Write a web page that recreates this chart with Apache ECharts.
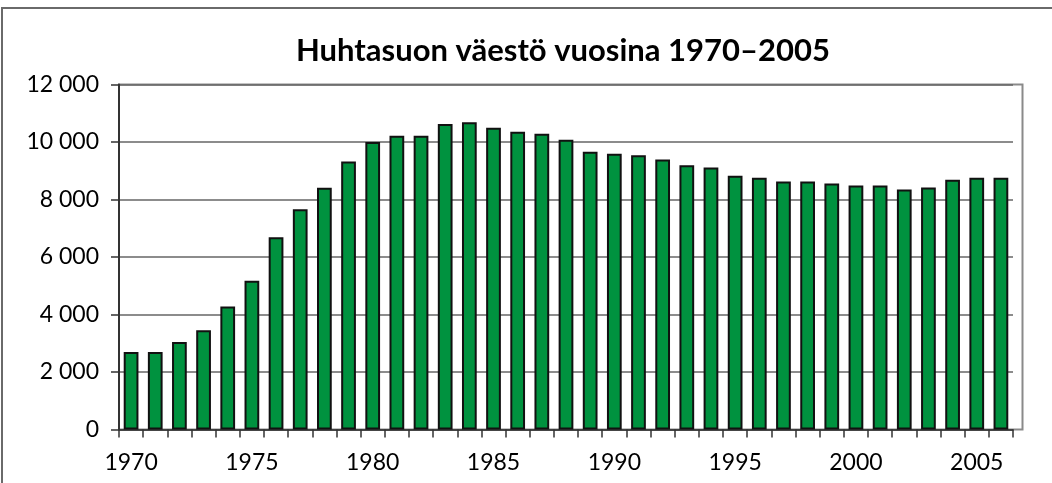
<!DOCTYPE html>
<html>
<head>
<meta charset="utf-8">
<script src="https://cdn.jsdelivr.net/npm/echarts@6/dist/echarts.min.js"></script>
<style>
  html, body { margin: 0; padding: 0; background: #fff; }
  #chart { width: 1052px; height: 483px; }
</style>
</head>
<body>
<div id="chart"></div>
<script>
// Population of Huhtasuo by year
const years = [
  '1970','1971','1972','1973','1974','1975','1976','1977','1978','1979',
  '1980','1981','1982','1983','1984','1985','1986','1987','1988','1989',
  '1990','1991','1992','1993','1994','1995','1996','1997','1998','1999',
  '2000','2001','2002','2003','2004','2005','2006'
];
const population = [
  2700, 2700, 3040, 3450, 4280, 5170, 6690, 7660, 8410, 9320,
  10000, 10220, 10220, 10630, 10690, 10500, 10360, 10290, 10080, 9660,
  9590, 9540, 9390, 9190, 9110, 8830, 8760, 8630, 8630, 8560,
  8490, 8490, 8350, 8420, 8690, 8760, 8760
];
const yTicks = { min: 0, max: 12000, step: 2000 };
const labelYears = ['1970','1975','1980','1985','1990','1995','2000','2005'];
const titleText = 'Huhtasuon väestö vuosina 1970–2005';

const FONT = 'Lato, "Open Sans", sans-serif';
const chart = echarts.init(document.getElementById('chart'), null, { renderer: 'canvas' });

const fmt = v => String(v).replace(/\B(?=(\d{3})+(?!\d))/g, ' ');

chart.setOption({
  animation: false,
  backgroundColor: '#fff',
  title: {
    text: titleText,
    left: 291,
    top: 30,
    textStyle: { fontFamily: FONT, fontWeight: 'bold', fontSize: 31, color: '#000' }
  },
  graphic: [
    // outer chart frame
    { type: 'rect', shape: { x: 2, y: 8, width: 1070, height: 500 },
      style: { fill: null, stroke: '#6a6a6a', lineWidth: 2 }, silent: true, z: 0 },
    // plot-area frame (extends a little beyond the last category)
    { type: 'rect', shape: { x: 119, y: 84.5, width: 903.5, height: 345 },
      style: { fill: null, stroke: '#8a8a8a', lineWidth: 2 }, silent: true, z: 0 }
  ],
  grid: { left: 119, right: 39, top: 84.5, bottom: 53.5, containLabel: false },
  xAxis: {
    type: 'category',
    data: years,
    boundaryGap: true,
    axisLine: { show: true, lineStyle: { color: '#333', width: 1.5 } },
    axisTick: { show: true, alignWithLabel: false, interval: 0, length: 8,
      lineStyle: { color: '#333', width: 1.5 } },
    axisLabel: {
      interval: 0,
      formatter: v => labelYears.includes(v) ? v : '',
      margin: 22,
      fontFamily: FONT, fontSize: 23, color: '#000'
    },
    splitLine: { show: false }
  },
  yAxis: {
    type: 'value',
    min: yTicks.min, max: yTicks.max, interval: yTicks.step,
    axisLine: { show: true, lineStyle: { color: '#333', width: 2 } },
    axisTick: { show: true, length: 8, lineStyle: { color: '#333', width: 1.5 } },
    axisLabel: { formatter: fmt, margin: 20, fontFamily: FONT, fontSize: 23, color: '#000' },
    splitLine: { show: true, lineStyle: { color: '#666', width: 1.5 } }
  },
  series: [{
    type: 'bar',
    data: population,
    barCategoryGap: '39%',
    itemStyle: { color: '#00923f', borderColor: '#111', borderWidth: 2 },
    z: 3
  }]
});
</script>
</body>
</html>
